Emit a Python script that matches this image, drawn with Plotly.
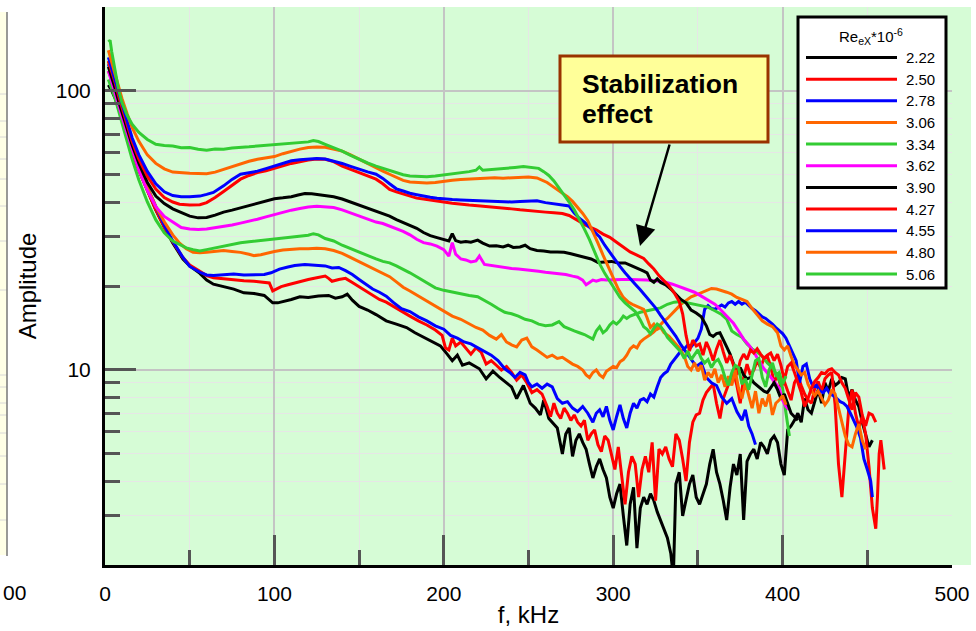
import plotly.graph_objects as go

# ---------------- data (frequency kHz, amplitude) ----------------
labels = ["2.22", "2.50", "2.78", "3.06", "3.34", "3.62", "3.90", "4.27", "4.55", "4.80", "5.06"]
colors = ["#000000", "#FF0000", "#0000FF", "#FF6600", "#33CC33", "#FF00FF",
          "#000000", "#FF0000", "#0000FF", "#FF6600", "#33CC33"]

s222 = [(2,105),(4,100),(6,94),(8,87),(10,80),(13,70),(16,61),(20,52),(25,44),(30,37.5),(35,32.5),(40,28.5),(46,25),(50,23.6),(56,22.2),(60,21.0),(64,20.3),(70,19.9),(76,19.5),(82,18.9),(88,18.8),(94,18.5),(99,17.4),(102,17.4),(106,17.6),(110,17.9),(115,18.3),(120,18.2),(126,18.4),(132,18.5),(136,18.1),(140,18.3),(143,18.7),(146,17.8),(150,16.9),(155,16.4),(160,15.8),(166,15.0),(172,14.6),(178,14.2),(183,13.6),(188,13.1),(193,12.7),(198,12.2),(202,11.4),(205,10.8),(208,11.3),(211,10.4),(215,10.6),(221,10.1),(225,9.3),(229,9.9),(233,9.4),(237,9.0),(240,8.7),(243,7.9),(247,8.8),(251,7.6),(254,7.3),(257,6.9),(259,7.8),(262,6.7),(265,6.4),(267,6.2),(270,5.0),(272,5.9),(274,6.2),(276,4.9),(278,5.6),(280,5.9),(282,5.5),(284,5.2),(286,4.6),(288,4.1),(290,4.5),(292,4.8),(294,4.4),(296,4.1),(298,3.5),(300,3.2),(302,3.6),(304,3.9),(306,3.0),(308,2.35),(310,3.3),(312,3.8),(314,2.3),(316,3.2),(318,3.5),(320,3.3),(322,3.6),(324,3.4),(326,3.1),(328,2.9),(330,2.7),(332,2.5),(334,2.2),(335.5,1.8),(337,3.9),(339,4.3),(341,3.0),(343,3.4),(345,3.9),(347,4.2),(349,3.5),(351,3.3),(353,3.6),(355,3.9),(357,4.6),(359,5.2),(361,4.3),(363,3.9),(365,3.4),(367,2.9),(369,3.8),(371,4.6),(373,4.2),(375,5.0),(377,2.9),(379,4.7),(381,5.0),(383,5.2),(385,4.8),(387,5.5),(389,5.3),(391,5.0),(393,5.6),(395,5.8),(397,5.5),(399,4.6),(401,4.2),(403,6.1),(405,6.3),(407,6.6),(409,7.0),(411,6.5),(413,7.9),(415,7.2),(417,7.0),(419,7.8),(421,8.5),(423,7.6),(425,9.0),(427,8.4),(429,9.3),(431,8.8),(433,9.0),(435,9.4),(437,9.3),(439,8.0),(441,8.5),(443,7.8),(445,7.4),(447,6.5),(449,5.8),(451,5.3),(453,5.6)]

s250 = [(2,118),(4,110),(6,100),(8,91),(10,82),(13,71),(16,61),(20,52),(25,44),(30,37.5),(35,32.5),(40,28.8),(46,25.3),(50,23.8),(56,22.6),(60,21.8),(64,21.4),(70,21.2),(76,21.0),(82,20.9),(88,20.8),(94,20.6),(97,20.5),(99,19.2),(101,19.5),(104,19.9),(108,20.2),(112,20.5),(116,20.9),(120,21.1),(125,21.4),(130,21.7),(132,21.3),(134,20.8),(138,21.1),(142,21.3),(146,20.6),(150,19.9),(154,19.2),(158,18.5),(162,17.9),(166,17.5),(170,16.9),(175,16.2),(180,15.6),(185,15.0),(190,14.5),(195,13.9),(199,13.3),(201,12.0),(203,11.8),(205,13.0),(207,12.2),(210,12.6),(213,12.0),(216,11.4),(219,12.0),(222,11.6),(225,10.5),(228,10.8),(231,10.4),(234,10.0),(237,10.3),(240,9.8),(243,9.2),(246,9.6),(249,9.0),(252,8.3),(255,8.5),(258,8.2),(261,7.4),(263,6.8),(265,7.6),(267,7.0),(269,6.7),(271,7.3),(273,7.0),(275,6.6),(277,6.9),(279,6.5),(281,6.3),(283,6.6),(285,5.6),(287,5.9),(289,6.1),(291,5.4),(293,5.1),(295,5.8),(297,5.6),(299,4.9),(301,4.4),(303,5.3),(305,4.2),(307,3.3),(309,4.3),(311,4.9),(313,4.6),(315,3.5),(317,4.4),(319,4.9),(321,4.3),(323,5.5),(325,3.4),(327,5.2),(329,5.0),(331,5.3),(333,4.8),(335,4.5),(337,5.9),(339,5.6),(341,4.8),(343,4.0),(345,5.5),(347,6.5),(349,6.9),(351,7.0),(353,7.8),(355,8.3),(357,8.6),(359,8.9),(361,7.6),(363,6.7),(365,7.9),(367,8.6),(369,9.2),(371,9.8),(373,8.8),(375,7.6),(377,9.4),(379,10.5),(381,9.6),(383,10.0),(385,10.8),(387,10.2),(389,11.0),(391,11.2),(393,10.3),(395,9.0),(397,9.6),(399,8.7),(401,9.1),(403,8.4),(405,7.8),(407,9.0),(409,9.5),(411,8.8),(413,8.2),(415,7.8),(417,7.6),(419,8.6),(421,9.1),(423,8.4),(425,9.3),(427,9.6),(429,9.8),(431,7.5),(433,4.6),(435,3.5),(437,5.0),(439,7.2),(441,8.5),(443,7.0),(445,6.2),(447,6.8),(449,5.9),(451,4.5),(453,3.2),(455,2.7),(456,3.5),(457,5.0),(458,5.6),(459,4.8),(460,4.4)]

s278 = [(2,125),(4,115),(6,104),(8,93),(10,84),(13,73),(16,62),(20,53),(25,45),(30,38.5),(35,33),(40,29),(46,25.3),(50,23.5),(56,22.4),(60,21.9),(64,21.8),(70,22.0),(76,22.1),(82,21.9),(88,22.0),(94,22.0),(98,22.3),(103,23.0),(108,23.4),(112,23.7),(118,23.9),(124,23.8),(130,23.6),(134,23.2),(138,23.3),(142,22.7),(146,22.0),(150,21.1),(154,20.3),(158,19.5),(162,19.0),(166,18.4),(170,17.5),(175,16.6),(180,16.2),(185,15.5),(190,15.0),(195,14.4),(200,14.0),(204,13.3),(208,13.0),(212,12.6),(216,12.4),(220,12.0),(224,11.6),(228,11.3),(232,10.8),(236,10.1),(239,9.8),(242,9.4),(245,9.8),(248,9.6),(250,9.0),(252,8.7),(255,8.9),(258,8.6),(261,8.9),(264,8.7),(267,7.9),(270,7.6),(273,7.7),(276,7.3),(279,7.1),(282,7.4),(285,7.0),(288,6.5),(290,7.0),(292,7.2),(294,6.8),(296,7.4),(298,6.6),(300,6.1),(302,6.8),(304,7.5),(306,6.7),(308,6.2),(310,7.0),(312,7.6),(314,7.3),(316,7.8),(318,7.9),(320,7.7),(322,8.2),(324,8.0),(326,8.7),(328,9.4),(330,9.7),(332,9.9),(334,10.5),(336,10.9),(338,11.3),(340,11.7),(342,11.9),(344,12.3),(346,12.1),(348,12.6),(350,13.0),(352,14.0),(354,16.5),(356,17.0),(358,16.6),(360,16.5),(362,16.8),(364,17.1),(366,16.8),(368,17.4),(370,17.6),(372,17.2),(374,17.6),(376,17.2),(378,17.5),(380,17.0),(382,16.6),(384,16.3),(386,15.9),(388,15.5),(390,15.3),(392,15.0),(394,14.6),(396,14.2),(398,13.8),(400,13.5),(402,13.0),(404,12.2),(406,11.6),(408,10.8),(410,9.0),(412,10.3),(414,10.5),(416,9.3),(418,8.7),(420,8.8),(422,8.4),(424,8.3),(426,8.6),(428,8.2),(430,8.1),(432,7.9),(434,7.7),(436,7.6),(438,7.4),(440,7.0),(442,6.6),(444,6.2),(446,5.7),(448,4.8),(450,4.4),(452,4.0),(453,3.5)]

s306 = [(2,128),(4,117),(6,105),(8,94),(10,85),(13,73),(16,62),(20,53),(25,45),(30,38.5),(35,34),(40,30.5),(44,28.5),(48,27.2),(52,26.4),(56,26.3),(60,26.4),(65,26.6),(70,26.8),(75,26.6),(80,26.4),(85,26.0),(88,25.7),(92,25.9),(96,26.3),(100,26.6),(105,26.9),(110,27.1),(115,27.2),(120,27.2),(125,27.3),(130,27.2),(135,26.8),(140,26.2),(145,25.3),(150,24.5),(155,23.7),(160,22.9),(164,22.3),(168,21.6),(172,20.7),(176,19.8),(180,19.2),(185,18.4),(190,17.6),(195,16.9),(200,16.2),(205,15.6),(210,15.2),(215,14.6),(219,14.2),(223,13.9),(227,13.3),(231,12.9),(234,13.4),(237,12.6),(240,12.3),(243,12.1),(246,12.8),(249,13.0),(252,12.1),(255,11.8),(258,11.4),(261,11.1),(264,11.3),(267,11.0),(270,11.1),(273,10.8),(276,10.5),(279,10.3),(282,10.0),(284,9.6),(286,9.4),(288,9.8),(290,10.0),(292,9.6),(294,9.4),(296,9.9),(298,10.1),(300,10.3),(302,10.2),(304,10.7),(306,10.9),(308,11.3),(310,11.9),(312,12.2),(314,12.0),(316,12.6),(318,12.9),(320,13.2),(322,13.4),(324,13.7),(326,14.1),(328,14.6),(330,15.0),(332,15.3),(334,15.8),(336,16.2),(338,16.7),(340,17.2),(343,17.8),(346,18.3),(349,18.6),(352,18.9),(355,19.2),(358,19.6),(361,19.5),(364,19.3),(367,19.0),(370,18.7),(373,18.2),(376,17.9),(379,17.6),(382,16.6),(385,15.8),(388,15.0),(391,14.6),(394,14.3),(397,13.6),(399,12.2),(401,11.8),(403,12.2),(405,11.2),(407,10.4),(409,10.0),(411,9.6),(413,9.8),(415,8.9),(417,8.4),(419,8.1),(421,8.4),(423,7.9),(425,7.5),(427,7.8),(429,8.5),(431,8.2),(433,7.3),(435,6.4),(437,5.8),(439,5.4),(441,5.3),(443,5.9),(445,6.4),(447,5.6),(449,5.2)]

s334 = [(2,110),(4,102),(6,94),(8,85),(10,77),(13,67),(16,57),(20,48),(25,40),(30,34.5),(35,31),(40,29),(44,28.2),(48,27.4),(52,27.0),(56,26.7),(60,27.0),(65,27.4),(70,27.8),(75,28.2),(80,28.6),(85,28.8),(90,29.0),(95,29.2),(100,29.4),(105,29.7),(110,29.9),(115,30.1),(120,30.4),(123,30.8),(126,30.5),(130,29.6),(135,29.0),(140,28.0),(145,27.2),(150,26.4),(155,25.6),(160,25.0),(164,24.5),(168,24.2),(172,23.6),(176,23.0),(180,22.3),(185,21.4),(190,20.6),(195,19.7),(200,19.3),(205,19.0),(210,18.8),(215,18.5),(220,18.3),(224,17.8),(228,17.2),(232,16.6),(236,16.1),(240,15.9),(244,15.6),(248,15.2),(252,15.0),(256,14.6),(260,14.4),(264,14.5),(268,14.9),(271,14.3),(274,14.0),(277,13.8),(280,13.6),(283,13.4),(286,13.1),(288,12.9),(290,13.8),(292,14.3),(294,13.6),(296,13.9),(298,14.5),(300,14.9),(302,14.6),(304,15.0),(306,15.6),(308,15.3),(310,15.6),(313,15.9),(316,16.1),(320,16.3),(324,16.5),(328,16.7),(332,17.2),(336,17.5),(340,17.6),(344,17.4),(348,17.2),(352,17.0),(356,16.8),(360,16.3),(364,15.8),(367,15.2),(370,13.8),(373,13.4),(376,13.1),(379,12.4),(382,11.9),(385,11.6),(388,11.2),(391,10.6),(394,10.2),(397,9.5),(400,8.6),(402,7.0),(404,5.8)]

s362 = [(2,118),(4,108),(6,98),(8,89),(10,81),(13,71),(16,61),(20,52),(25,44),(30,38.5),(35,35.5),(40,33.9),(45,32.4),(50,32.0),(55,31.9),(60,32.0),(65,32.3),(70,32.7),(75,33.1),(80,33.6),(85,34.1),(90,34.7),(95,35.4),(100,36.1),(105,36.8),(110,37.4),(115,37.9),(120,38.4),(125,38.6),(130,38.5),(135,38.2),(140,37.5),(145,36.6),(150,35.6),(155,34.8),(160,33.9),(164,33.5),(168,32.8),(172,32.0),(176,31.4),(180,30.5),(184,29.4),(188,28.6),(192,28.3),(196,27.8),(200,27.0),(203,25.6),(205,28.6),(207,26.0),(210,25.0),(213,24.8),(216,24.4),(219,24.6),(221,25.6),(224,23.9),(228,23.7),(232,23.4),(236,23.3),(240,23.1),(244,23.0),(248,22.9),(252,22.8),(256,22.6),(260,22.4),(264,22.3),(268,22.1),(272,22.0),(276,21.7),(279,21.5),(282,21.0),(284,20.2),(286,20.6),(288,21.0),(290,20.8),(293,21.1),(296,21.0),(300,21.1),(305,21.1),(310,21.1),(315,21.1),(320,21.0),(325,20.9),(330,20.7),(335,20.3),(340,19.8),(344,19.4),(348,19.0),(352,18.4),(356,17.8),(360,17.2),(364,16.3),(368,15.4),(371,14.7),(374,13.8),(377,12.9),(380,12.3),(383,11.6),(386,10.8),(389,10.1),(392,9.6),(395,9.1),(398,8.6),(400,7.8),(402,7.4),(404,7.2)]

s390 = [(2,122),(4,112),(6,102),(8,92),(10,84),(13,74),(16,64),(20,55),(25,47),(30,42),(35,39.5),(40,37.8),(45,36.6),(50,35.6),(55,35.1),(60,35.2),(65,35.9),(70,36.8),(75,37.4),(80,38.1),(85,38.9),(90,39.7),(95,40.4),(100,41.1),(105,41.4),(110,41.8),(114,42.4),(118,42.9),(122,42.8),(127,42.5),(131,42.2),(135,41.8),(140,41.0),(145,40.0),(150,39.0),(155,38.0),(160,37.0),(164,36.4),(168,35.6),(172,34.6),(176,33.8),(180,33.0),(184,32.2),(188,31.1),(192,30.3),(196,29.8),(200,29.4),(203,29.0),(205,30.8),(207,29.1),(210,28.7),(213,28.9),(216,28.7),(220,29.2),(223,28.5),(227,27.8),(231,27.9),(235,27.6),(238,28.0),(241,27.5),(245,27.6),(248,28.0),(251,27.2),(255,26.8),(259,26.7),(263,26.5),(267,26.5),(271,26.4),(275,26.1),(279,25.7),(283,25.4),(287,25.0),(291,24.3),(295,24.4),(299,24.5),(303,24.2),(307,24.2),(311,23.6),(315,23.1),(318,22.6),(320,22.3),(322,21.0),(324,20.6),(326,21.2),(328,20.6),(331,20.2),(334,19.5),(337,18.6),(340,17.9),(343,17.4),(346,16.4),(349,16.0),(352,15.5),(355,14.4),(357,13.4),(359,13.2),(361,13.5),(363,13.6),(365,12.9),(367,12.1),(369,11.4),(371,10.5),(373,9.7),(375,10.2),(377,9.6),(379,9.3),(381,9.4),(383,9.0),(385,8.8),(387,8.6),(389,8.4),(391,8.3),(393,8.6),(395,9.0),(397,8.5),(399,7.9),(401,8.2),(403,7.6),(405,7.0),(407,6.8),(409,6.6)]

s427 = [(2,128),(4,118),(6,107),(8,96),(10,87),(13,76),(16,66),(20,57),(25,49.5),(30,44.5),(35,41.5),(40,40.0),(44,39.3),(50,39.0),(56,39.1),(60,39.8),(65,41.5),(70,43.6),(75,46.0),(80,48.3),(85,49.8),(90,51.0),(95,51.8),(100,52.7),(105,53.9),(110,55.0),(115,55.9),(120,56.6),(125,57.0),(130,56.9),(135,55.8),(140,53.8),(145,52.4),(150,51.0),(155,49.6),(160,48.3),(164,46.5),(168,44.4),(172,43.5),(176,42.7),(180,42.0),(184,41.3),(188,41.0),(192,40.6),(196,40.3),(200,40.0),(205,39.6),(210,39.2),(215,39.0),(220,38.8),(225,38.6),(230,38.3),(235,38.0),(240,37.8),(245,37.5),(250,37.2),(255,37.0),(260,36.8),(265,36.6),(270,36.4),(274,35.8),(278,34.7),(281,33.7),(284,33.0),(287,32.4),(290,31.8),(294,30.7),(298,29.9),(302,28.7),(306,27.6),(310,26.5),(314,25.8),(318,25.1),(321,24.0),(324,23.0),(327,21.8),(330,20.8),(333,20.0),(336,18.9),(339,17.6),(341,15.9),(343,13.3),(345,11.7),(347,12.8),(349,12.2),(351,12.4),(353,11.3),(355,12.6),(357,11.8),(359,10.8),(361,11.9),(363,12.8),(365,11.6),(367,10.6),(369,11.3),(371,10.4),(373,9.6),(375,10.8),(377,11.4),(379,10.9),(381,11.8),(383,11.5),(385,11.9),(387,11.4),(389,11.0),(391,11.3),(393,11.5),(395,10.8),(397,11.4),(399,10.4),(401,9.2),(403,10.3),(405,10.6),(407,9.8),(409,9.0),(411,8.3),(413,7.4),(415,7.9),(417,8.6),(419,9.1),(421,9.4),(423,9.8),(425,9.7),(427,10.0),(429,10.1),(431,9.8),(433,9.6),(435,9.0),(437,8.6),(439,7.8),(441,7.2),(443,8.3),(445,8.0),(447,6.9),(449,6.3),(451,7.0),(453,6.9),(455,6.5)]

s455 = [(2,132),(4,120),(6,109),(8,98),(10,89),(13,78),(16,68),(20,59),(25,51.5),(30,46.5),(35,43.5),(40,42.2),(45,41.8),(50,41.8),(56,42.0),(60,42.6),(64,43.3),(70,45.7),(75,48.2),(80,50.3),(85,51.0),(90,51.6),(95,52.7),(100,53.8),(105,55.0),(110,56.2),(115,56.7),(120,57.1),(125,57.3),(130,57.0),(135,56.1),(140,55.0),(145,53.7),(150,52.4),(155,51.3),(160,50.3),(164,48.6),(168,46.5),(172,44.6),(176,43.8),(180,43.0),(184,42.5),(188,42.0),(192,41.6),(196,41.3),(200,41.0),(205,40.8),(210,40.7),(215,40.6),(220,40.4),(225,40.2),(230,40.1),(235,40.0),(240,40.0),(245,40.2),(250,40.3),(255,40.4),(260,39.8),(265,39.3),(270,39.0),(274,38.7),(277,36.5),(280,35.0),(283,33.9),(286,32.5),(289,31.2),(292,30.0),(295,28.0),(298,26.4),(301,24.8),(304,23.5),(307,22.3),(310,21.2),(313,20.3),(316,19.4),(319,18.5),(322,17.6),(325,16.7),(328,15.7),(331,14.8),(334,14.1),(337,13.2),(340,12.3),(343,11.6),(346,11.0),(349,10.3),(352,10.6),(355,9.4),(358,9.0),(361,8.8),(364,8.0),(367,7.6),(370,7.9),(373,7.1),(376,6.6),(378,7.2),(380,6.3),(382,5.9),(384,5.4)]

s480 = [(2,140),(4,126),(6,114),(8,103),(10,94),(13,83),(16,74),(20,66),(25,59),(30,55),(35,52.6),(40,51.2),(45,50.8),(50,50.7),(55,50.6),(60,50.5),(65,51.2),(70,52.4),(75,53.7),(80,55.0),(85,56.0),(90,56.9),(95,57.6),(100,58.2),(105,59.6),(110,60.9),(115,61.9),(120,62.7),(125,63.0),(130,62.8),(135,62.0),(140,60.9),(145,59.0),(150,56.9),(155,55.0),(160,53.1),(164,51.6),(168,50.3),(172,49.0),(176,47.8),(180,47.2),(185,46.9),(190,46.8),(195,47.0),(200,47.5),(205,47.9),(210,48.2),(215,48.4),(220,48.6),(225,49.0),(230,48.9),(235,48.7),(240,48.9),(245,49.1),(250,49.2),(255,48.8),(258,48.0),(261,47.0),(264,45.6),(267,44.4),(270,43.1),(273,41.8),(276,40.2),(279,38.3),(282,36.4),(285,34.3),(288,31.4),(291,28.5),(294,25.8),(297,23.4),(300,21.2),(303,19.5),(306,18.2),(309,17.5),(312,17.1),(315,16.8),(318,16.5),(320,15.4),(322,14.2),(324,14.6),(326,14.0),(328,14.2),(330,13.6),(333,13.2),(336,12.6),(339,12.0),(342,11.2),(344,10.3),(346,10.0),(348,10.6),(350,9.9),(352,10.4),(354,9.2),(356,9.8),(358,9.4),(360,10.1),(362,9.0),(364,9.6),(366,8.7),(368,9.5),(370,8.8),(372,10.0),(374,8.6),(376,7.9),(378,9.0),(380,8.1),(382,7.3),(384,8.4),(386,7.0),(388,7.9),(390,7.4),(392,8.2),(394,6.9),(396,7.6),(398,7.8),(400,8.1),(402,7.5)]

s506 = [(2,150),(3,152),(4,138),(6,118),(8,101),(10,91),(13,82),(16,76),(20,71),(25,67),(30,64.4),(35,63.8),(40,63.5),(45,62.6),(50,62.7),(55,61.8),(60,61.3),(65,61.9),(70,61.8),(75,62.5),(80,62.7),(85,63.1),(90,63.5),(95,63.8),(100,64.1),(105,64.5),(110,65.0),(115,65.4),(120,65.7),(123,66.4),(126,65.9),(130,64.4),(135,62.6),(140,60.9),(145,58.8),(150,56.9),(155,55.2),(160,53.8),(164,52.9),(168,51.9),(172,51.0),(176,50.1),(180,49.6),(185,49.3),(190,49.3),(195,49.6),(200,50.0),(205,50.6),(210,51.0),(215,51.4),(219,52.0),(221,53.4),(223,52.0),(227,52.2),(232,52.6),(237,52.8),(242,53.2),(247,53.6),(252,53.2),(256,52.8),(259,51.4),(262,49.8),(265,47.6),(268,45.0),(271,42.6),(274,40.0),(277,37.5),(280,34.8),(283,32.0),(286,29.3),(289,26.5),(292,24.0),(295,22.2),(298,20.7),(301,19.3),(304,18.2),(307,17.4),(310,16.8),(313,16.2),(316,15.1),(318,14.3),(320,14.0),(322,13.5),(324,14.1),(326,14.6),(328,14.3),(330,13.8),(332,13.1),(334,12.7),(336,12.3),(338,12.0),(340,11.6),(342,11.0),(344,11.7),(346,10.9),(348,11.3),(350,11.8),(352,11.0),(354,10.6),(356,10.9),(358,10.2),(360,10.7),(362,10.9),(364,10.3),(366,9.4),(368,8.8),(370,9.8),(372,10.4),(374,10.2),(376,8.9),(378,9.3),(380,8.5),(382,9.7),(384,10.8),(386,11.0),(388,9.4),(390,8.7),(392,10.0),(394,10.6),(396,9.6),(398,9.8),(400,8.9),(402,9.5)]

series = [s222, s250, s278, s306, s334, s362, s390, s427, s455, s480, s506]

x_ticks = [0, 100, 200, 300, 400, 500]
x_minor = [50, 150, 250, 350, 450]
y_ticks = [10, 100]
y_minor = [2, 3, 4, 5, 6, 7, 8, 9, 20, 30, 40, 50, 60, 70, 80, 90, 200]

FONT = "Liberation Sans, Arial, sans-serif"
W, H = 976, 631
L, R, T, B = 105, 24, 7, 66
PW, PH = W - L - R, H - T - B


def px(x):
    return (x - L) / PW


def py(y):
    return (H - B - y) / PH


fig = go.Figure()
for lab, col, s in zip(labels, colors, series):
    fig.add_trace(go.Scatter(
        x=[p[0] for p in s], y=[p[1] for p in s], mode="lines", name=lab,
        line=dict(color=col, width=3), showlegend=False))

shapes = []
annotations = []

# plot-area fill continuing past the x axis end (as in the source figure)
shapes.append(dict(type="rect", xref="paper", yref="paper", x0=1, x1=px(971), y0=0, y1=1,
                   fillcolor="#D6FCD6", line=dict(width=0), layer="below"))
# neighbouring chart strip at the far left
shapes.append(dict(type="rect", xref="paper", yref="paper", x0=px(-5), x1=px(7), y0=py(555), y1=py(12),
                   fillcolor="#FFFFE6", line=dict(width=0), layer="below"))
for gy in [94, 121, 137, 159, 179, 206, 241, 290, 375, 387, 403, 415, 433, 456, 484, 520]:
    shapes.append(dict(type="line", xref="paper", yref="paper", x0=px(-5), x1=px(7), y0=py(gy), y1=py(gy),
                       line=dict(color="#D8D8D8", width=1), layer="below"))
shapes.append(dict(type="line", xref="paper", yref="paper", x0=px(7), x1=px(7), y0=py(556), y1=py(12),
                   line=dict(color="#777777", width=1.5)))
annotations.append(dict(xref="paper", yref="paper", x=px(1), y=py(592), text="00", showarrow=False,
                        xanchor="left", yanchor="middle", font=dict(family=FONT, size=21, color="black")))

# legend box (drawn)
shapes.append(dict(type="rect", xref="paper", yref="paper", x0=px(798), x1=px(946), y0=py(288), y1=py(17),
                   fillcolor="white", line=dict(color="black", width=3)))
annotations.append(dict(xref="paper", yref="paper", x=px(871), y=py(36),
                        text="Re<sub>eX</sub>*10<sup>-6</sup>", showarrow=False,
                        xanchor="center", yanchor="middle", font=dict(family=FONT, size=15, color="black")))
for i, (lab, col) in enumerate(zip(labels, colors)):
    yy = 57.5 + 21.65 * i
    shapes.append(dict(type="line", xref="paper", yref="paper", x0=px(806), x1=px(897), y0=py(yy), y1=py(yy),
                       line=dict(color=col, width=3)))
    annotations.append(dict(xref="paper", yref="paper", x=px(937), y=py(yy), text=lab, showarrow=False,
                            xanchor="right", yanchor="middle", font=dict(family=FONT, size=15, color="black")))

# "Stabilization effect" callout
shapes.append(dict(type="rect", xref="paper", yref="paper", x0=px(560), x1=px(768), y0=py(142), y1=py(56),
                   fillcolor="#FFFF99", line=dict(color="#993300", width=3)))
annotations.append(dict(xref="paper", yref="paper", x=px(580), y=py(84),
                        text="<b>Stabilization</b>", showarrow=False, align="left",
                        xanchor="left", yanchor="middle", font=dict(family=FONT, size=26.5, color="black")))
annotations.append(dict(xref="paper", yref="paper", x=px(580), y=py(114),
                        text="<b>effect</b>", showarrow=False, align="left",
                        xanchor="left", yanchor="middle", font=dict(family=FONT, size=26.5, color="black")))
annotations.append(dict(xref="paper", yref="paper", x=px(640), y=py(246), text="", showarrow=True,
                        ax=30, ay=-103, arrowhead=2, arrowsize=1.6, arrowwidth=2.5, arrowcolor="black"))

fig.update_layout(
    width=W, height=H,
    margin=dict(l=L, r=R, t=T, b=B),
    paper_bgcolor="white", plot_bgcolor="#D6FCD6",
    font=dict(family=FONT, size=21, color="black"),
    shapes=shapes, annotations=annotations, showlegend=False,
    xaxis=dict(range=[0, 500], tickmode="array", tickvals=x_ticks,
               ticks="inside", ticklen=30, tickwidth=3, tickcolor="#555555",
               showline=True, linecolor="black", linewidth=3,
               showgrid=True, gridcolor="#C4C4C4", gridwidth=1.5, zeroline=False,
               ticklabelstandoff=8,
               minor=dict(tickmode="array", tickvals=x_minor, ticks="inside", ticklen=15,
                          tickwidth=3, tickcolor="#555555", showgrid=True, gridcolor="#E6E6E6", gridwidth=1),
               title=dict(text="f, kHz", font=dict(family=FONT, size=24), standoff=2)),
    yaxis=dict(type="log", range=[0.30103, 2.30103], tickmode="array", tickvals=y_ticks,
               ticktext=["10", "100"],
               ticks="inside", ticklen=31, tickwidth=3, tickcolor="#555555",
               showline=True, linecolor="black", linewidth=3,
               showgrid=True, gridcolor="#C4C4C4", gridwidth=1.5, zeroline=False,
               ticklabelstandoff=7,
               minor=dict(tickmode="array", tickvals=y_minor, ticks="inside", ticklen=15,
                          tickwidth=3, tickcolor="#555555", showgrid=True, gridcolor="#E6E6E6", gridwidth=1),
               title=dict(text="Amplitude", font=dict(family=FONT, size=24), standoff=13)),
)

fig.write_html("out.html")
